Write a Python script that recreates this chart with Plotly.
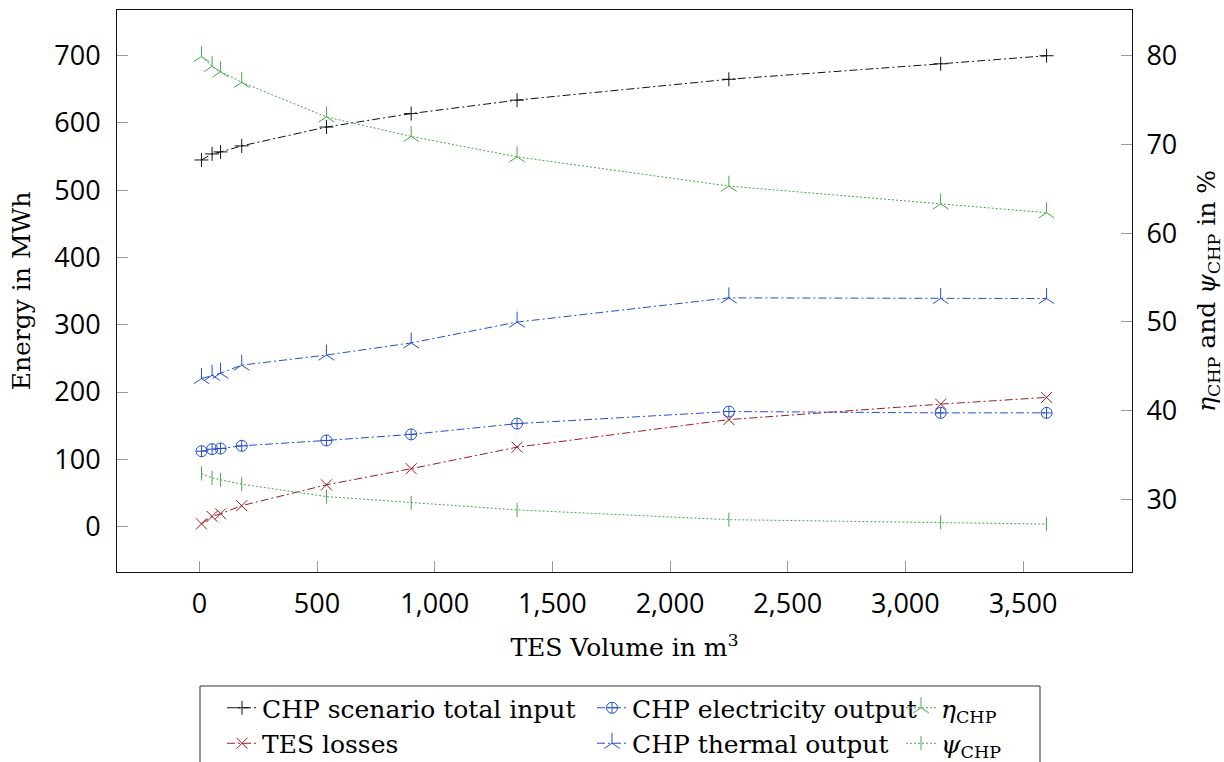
import plotly.graph_objects as go

# TES volume in m^3
volume = [9, 54, 90, 180, 540, 900, 1350, 2250, 3150, 3600]

# Energy in MWh (left axis)
total_input = [545, 554, 557, 566, 594, 614, 634, 665, 688, 700]
tes_losses = [4, 15, 19, 31, 62, 86, 118, 159, 182, 192]
elec_output = [112, 115, 116, 120, 128, 137, 153, 171, 169, 169]
thermal_output = [220, 225, 228, 240, 255, 273, 304, 340, 339, 339]

# CHP ratios in % (right axis)
eta_chp = [79.9, 78.8, 78.2, 77.0, 73.1, 70.9, 68.6, 65.3, 63.3, 62.3]
psi_chp = [32.9, 32.4, 32.2, 31.7, 30.3, 29.6, 28.8, 27.7, 27.4, 27.2]

x_ticks = [0, 500, 1000, 1500, 2000, 2500, 3000, 3500]
y_ticks = [0, 100, 200, 300, 400, 500, 600, 700]
y2_ticks = [30, 40, 50, 60, 70, 80]

BLACK = "#111111"
RED = "#a31a1a"
BLUE = "#1f4fd8"
GREEN = "#45a845"
DASHDOT = "8px,3px,2px,3px"
DOTTED = "2px,2px"

SERIF = "DejaVu Serif"
SANS = "Open Sans"

# plot area in pixels, used to place the legend columns and frame
PLOT_L, PLOT_R, PLOT_T, PLOT_B = 117, 1132, 10, 572


def px_x(px):
    return (px - PLOT_L) / (PLOT_R - PLOT_L)


def px_y(py):
    return (PLOT_B - py) / (PLOT_B - PLOT_T)


fig = go.Figure()


def add_series(y, name, color, dash, symbol, size, axis, legend):
    fig.add_trace(go.Scatter(
        x=volume, y=y, name=name, mode="lines+markers",
        yaxis=axis, legend=legend,
        line=dict(color=color, width=1, dash=dash),
        marker=dict(symbol=symbol, size=size, color=color,
                    line=dict(color=color, width=1)),
    ))


add_series(total_input, "CHP scenario total input", BLACK, DASHDOT,
           "cross-thin", 10, "y", "legend")
add_series(tes_losses, "TES losses", RED, DASHDOT,
           "x-thin", 11, "y", "legend")
add_series(elec_output, "CHP electricity output", BLUE, DASHDOT,
           "circle-cross-open", 11, "y", "legend2")
add_series(thermal_output, "CHP thermal output", BLUE, DASHDOT,
           "y-up", 13, "y", "legend2")
add_series(eta_chp, "<i>η</i><sub>CHP</sub>", GREEN, DOTTED,
           "y-up", 13, "y2", "legend3")
add_series(psi_chp, "<i>ψ</i><sub>CHP</sub>", GREEN, DOTTED,
           "line-ns", 10, "y2", "legend3")

tick_common = dict(
    ticks="inside", ticklen=11, tickwidth=1, tickcolor="#9a9a9a",
    showline=True, linecolor="#111111", linewidth=1,
    showgrid=False, zeroline=False,
    tickfont=dict(family=SANS, size=27, color="black", weight=500),
)

legend_common = dict(
    xref="paper", yref="paper", yanchor="top", xanchor="left",
    y=px_y(685), bgcolor="rgba(0,0,0,0)", borderwidth=0,
    font=dict(family=SERIF, size=25, color="black"), tracegroupgap=0,
)

fig.update_layout(
    width=1224, height=762,
    margin=dict(l=PLOT_L, r=1224 - PLOT_R, t=PLOT_T, b=762 - PLOT_B,
                autoexpand=False),
    paper_bgcolor="white", plot_bgcolor="white",
    xaxis=dict(
        range=[-350, 3963], tickvals=x_ticks, tickformat=",d",
        mirror=True, ticklabelstandoff=8,
        title=dict(text="TES Volume in m<sup>3</sup>", standoff=18,
                   font=dict(family=SERIF, size=25, color="black")),
        **tick_common,
    ),
    yaxis=dict(
        range=[-67.6, 768], tickvals=y_ticks, side="left",
        ticklabelstandoff=10,
        title=dict(text="Energy in MWh", standoff=16,
                   font=dict(family=SERIF, size=25, color="black")),
        **tick_common,
    ),
    yaxis2=dict(
        range=[21.8, 85.15], tickvals=y2_ticks, side="right",
        overlaying="y", ticklabelstandoff=8,
        title=dict(text="<i>η</i><sub>CHP</sub> and <i>ψ</i><sub>CHP</sub> in %",
                   standoff=22,
                   font=dict(family=SERIF, size=25, color="black")),
        **tick_common,
    ),
    legend=dict(x=px_x(222), **legend_common),
    legend2=dict(x=px_x(592), **legend_common),
    legend3=dict(x=px_x(901), **legend_common),
    shapes=[dict(
        type="rect", xref="paper", yref="paper",
        x0=px_x(200), x1=px_x(1040), y0=px_y(686), y1=px_y(775),
        line=dict(color="#333333", width=1), fillcolor="rgba(0,0,0,0)",
    )],
)

fig.write_html("out.html")
